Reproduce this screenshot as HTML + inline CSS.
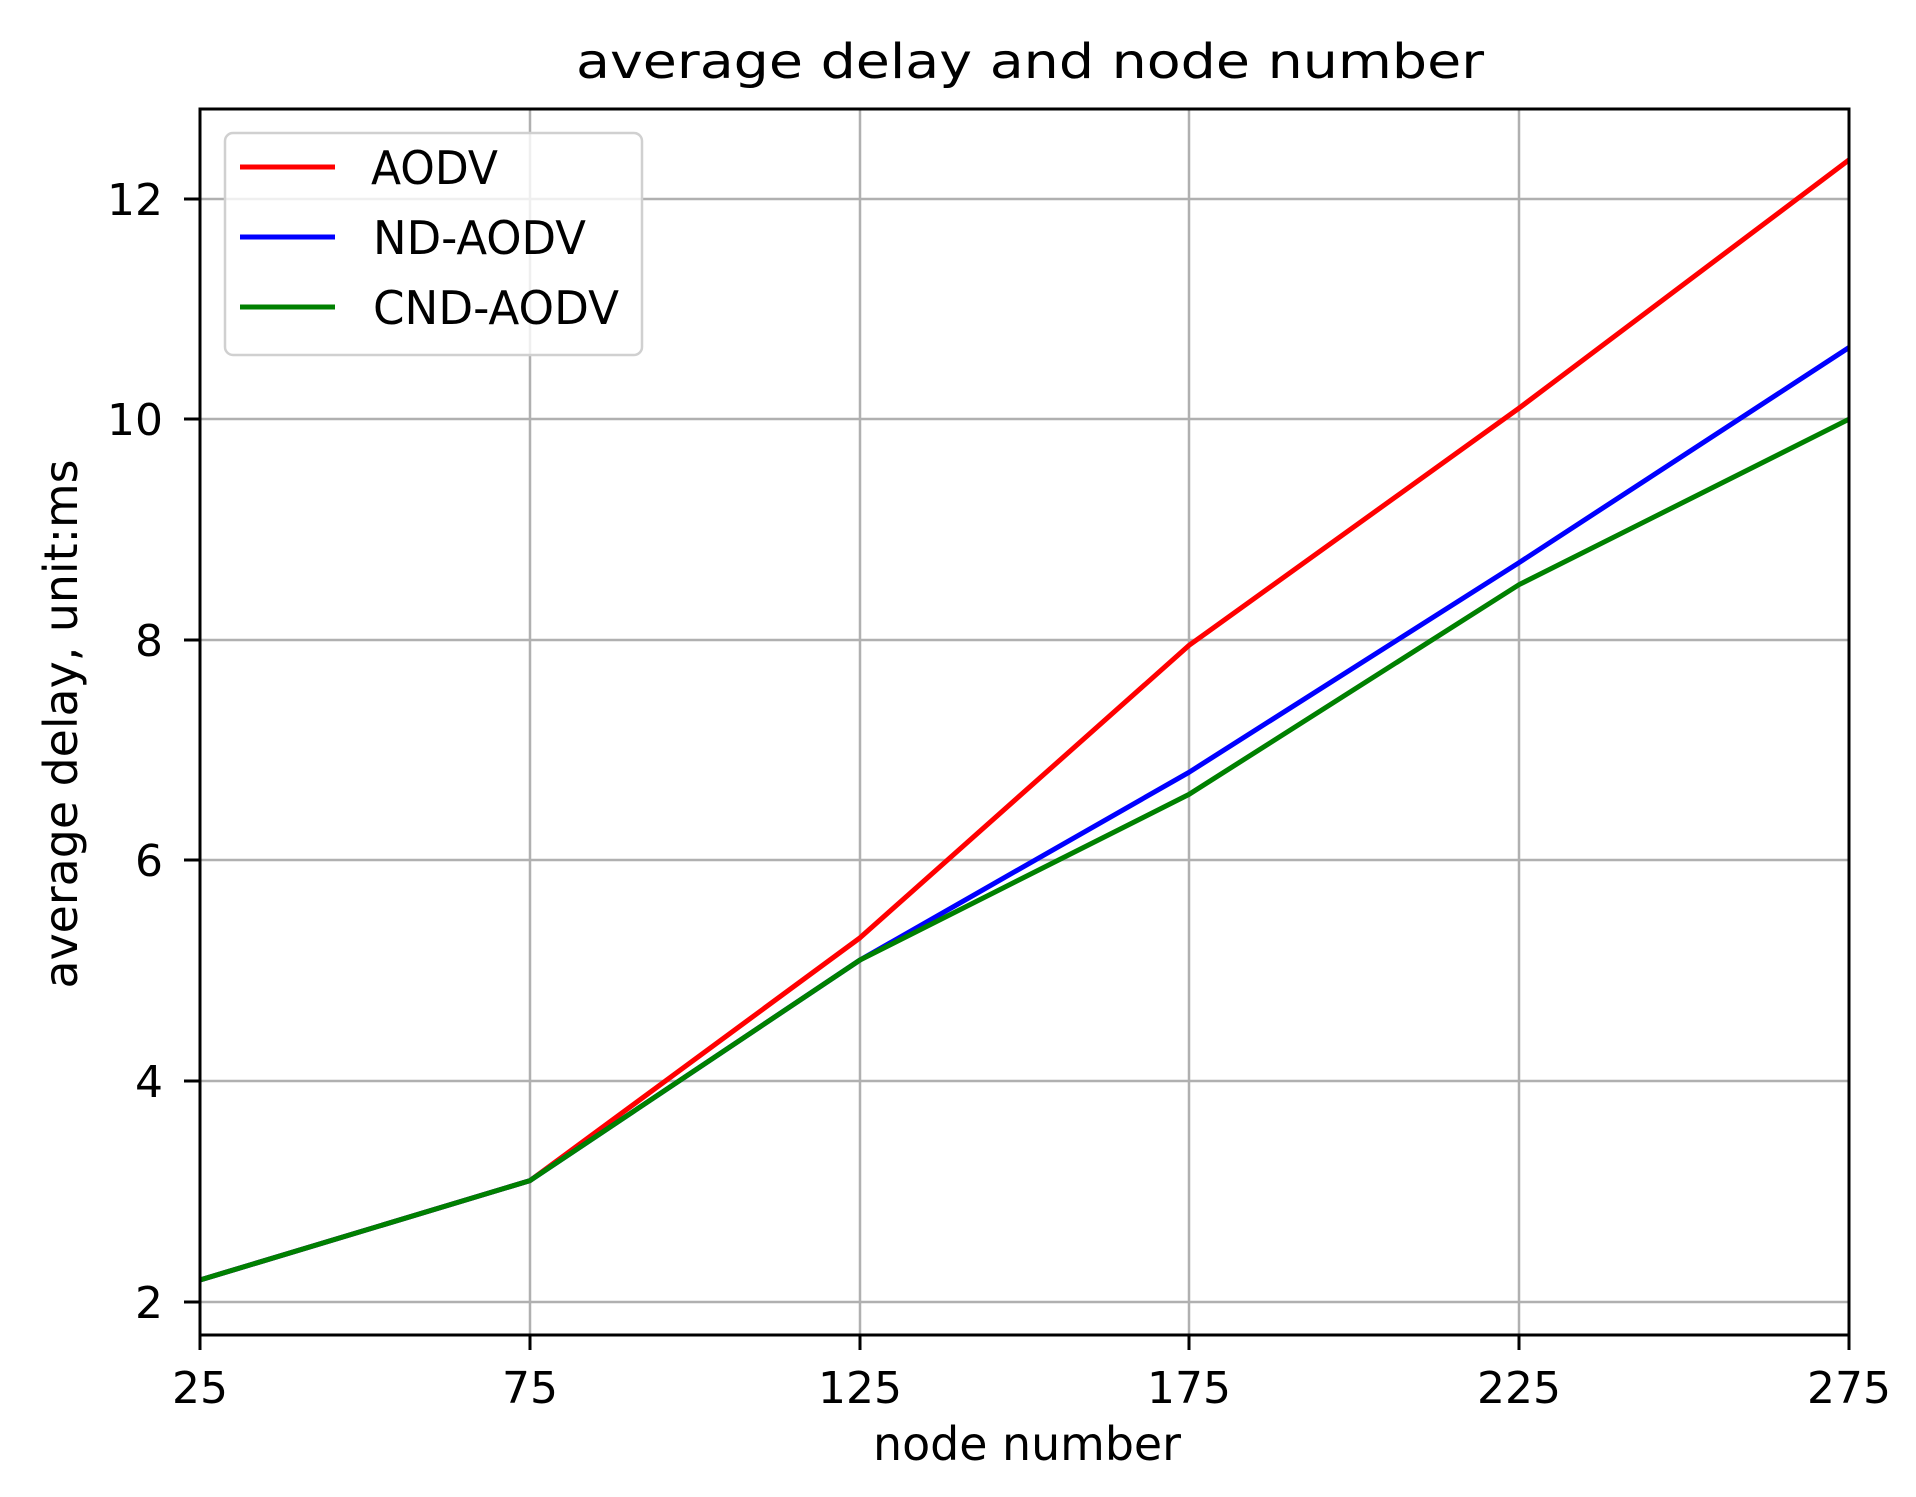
<!DOCTYPE html>
<html><head><meta charset="utf-8"><style>html,body{margin:0;padding:0;background:#fff}svg{display:block}</style></head>
<body>
<svg width="1916" height="1497" viewBox="0 0 1916 1497" xmlns="http://www.w3.org/2000/svg" font-family="'DejaVu Sans','Liberation Sans',sans-serif" fill="#000">
<rect width="1916" height="1497" fill="#fff"/>
<g stroke="#b0b0b0" stroke-width="2.5">
<line x1="200" y1="109" x2="200" y2="1335"/>
<line x1="530" y1="109" x2="530" y2="1335"/>
<line x1="860" y1="109" x2="860" y2="1335"/>
<line x1="1189" y1="109" x2="1189" y2="1335"/>
<line x1="1519" y1="109" x2="1519" y2="1335"/>
<line x1="200" y1="1302" x2="1849" y2="1302"/>
<line x1="200" y1="1081" x2="1849" y2="1081"/>
<line x1="200" y1="860" x2="1849" y2="860"/>
<line x1="200" y1="640" x2="1849" y2="640"/>
<line x1="200" y1="419" x2="1849" y2="419"/>
<line x1="200" y1="199" x2="1849" y2="199"/>
</g>
<g fill="none" stroke-width="5" stroke-linejoin="round">
<polyline stroke="#ff0000" points="200,1280 530,1180.6 860,937.8 1189,645.4 1519,408.2 1849,159.9"/>
<polyline stroke="#0000ff" points="200,1280 530,1180.6 860,960 1189,772.3 1519,562.7 1849,347.5"/>
<polyline stroke="#008000" points="200,1280 530,1180.6 860,960 1189,794.4 1519,584.7 1849,419.2"/>
</g>
<rect x="200" y="109" width="1649" height="1226" fill="none" stroke="#000" stroke-width="3"/>
<g stroke="#000" stroke-width="3">
<line x1="200" y1="1335" x2="200" y2="1350"/>
<line x1="530" y1="1335" x2="530" y2="1350"/>
<line x1="860" y1="1335" x2="860" y2="1350"/>
<line x1="1189" y1="1335" x2="1189" y2="1350"/>
<line x1="1519" y1="1335" x2="1519" y2="1350"/>
<line x1="1849" y1="1335" x2="1849" y2="1350"/>
<line x1="184" y1="1302" x2="200" y2="1302"/>
<line x1="184" y1="1081" x2="200" y2="1081"/>
<line x1="184" y1="860" x2="200" y2="860"/>
<line x1="184" y1="640" x2="200" y2="640"/>
<line x1="184" y1="419" x2="200" y2="419"/>
<line x1="184" y1="199" x2="200" y2="199"/>
</g>
<g font-size="44" text-anchor="middle">
<text x="200" y="1403">25</text>
<text x="530" y="1403">75</text>
<text x="860" y="1403">125</text>
<text x="1189" y="1403">175</text>
<text x="1519" y="1403">225</text>
<text x="1849" y="1403">275</text>
</g>
<g font-size="44" text-anchor="end">
<text x="163" y="1318">2</text>
<text x="163" y="1097">4</text>
<text x="163" y="876">6</text>
<text x="163" y="656">8</text>
<text x="163" y="435">10</text>
<text x="163" y="215">12</text>
</g>
<text x="1030" y="78" font-size="48" text-anchor="middle" textLength="908" lengthAdjust="spacingAndGlyphs">average delay and node number</text>
<text x="1027" y="1460" font-size="46" text-anchor="middle" textLength="308" lengthAdjust="spacingAndGlyphs">node number</text>
<text transform="translate(77,724) rotate(-90)" font-size="46" text-anchor="middle" textLength="529" lengthAdjust="spacingAndGlyphs">average delay, unit:ms</text>
<rect x="225" y="133" width="417" height="222" rx="8" fill="#fff" fill-opacity="0.8" stroke="#d0d0d0" stroke-width="2.5"/>
<g stroke-width="5">
<line x1="240" y1="167" x2="335" y2="167" stroke="#ff0000"/>
<line x1="240" y1="237" x2="335" y2="237" stroke="#0000ff"/>
<line x1="240" y1="307" x2="335" y2="307" stroke="#008000"/>
</g>
<g font-size="46">
<text x="371" y="184" textLength="127" lengthAdjust="spacingAndGlyphs">AODV</text>
<text x="373" y="254" textLength="213" lengthAdjust="spacingAndGlyphs">ND-AODV</text>
<text x="373" y="324" textLength="246" lengthAdjust="spacingAndGlyphs">CND-AODV</text>
</g>
</svg>
</body></html>
